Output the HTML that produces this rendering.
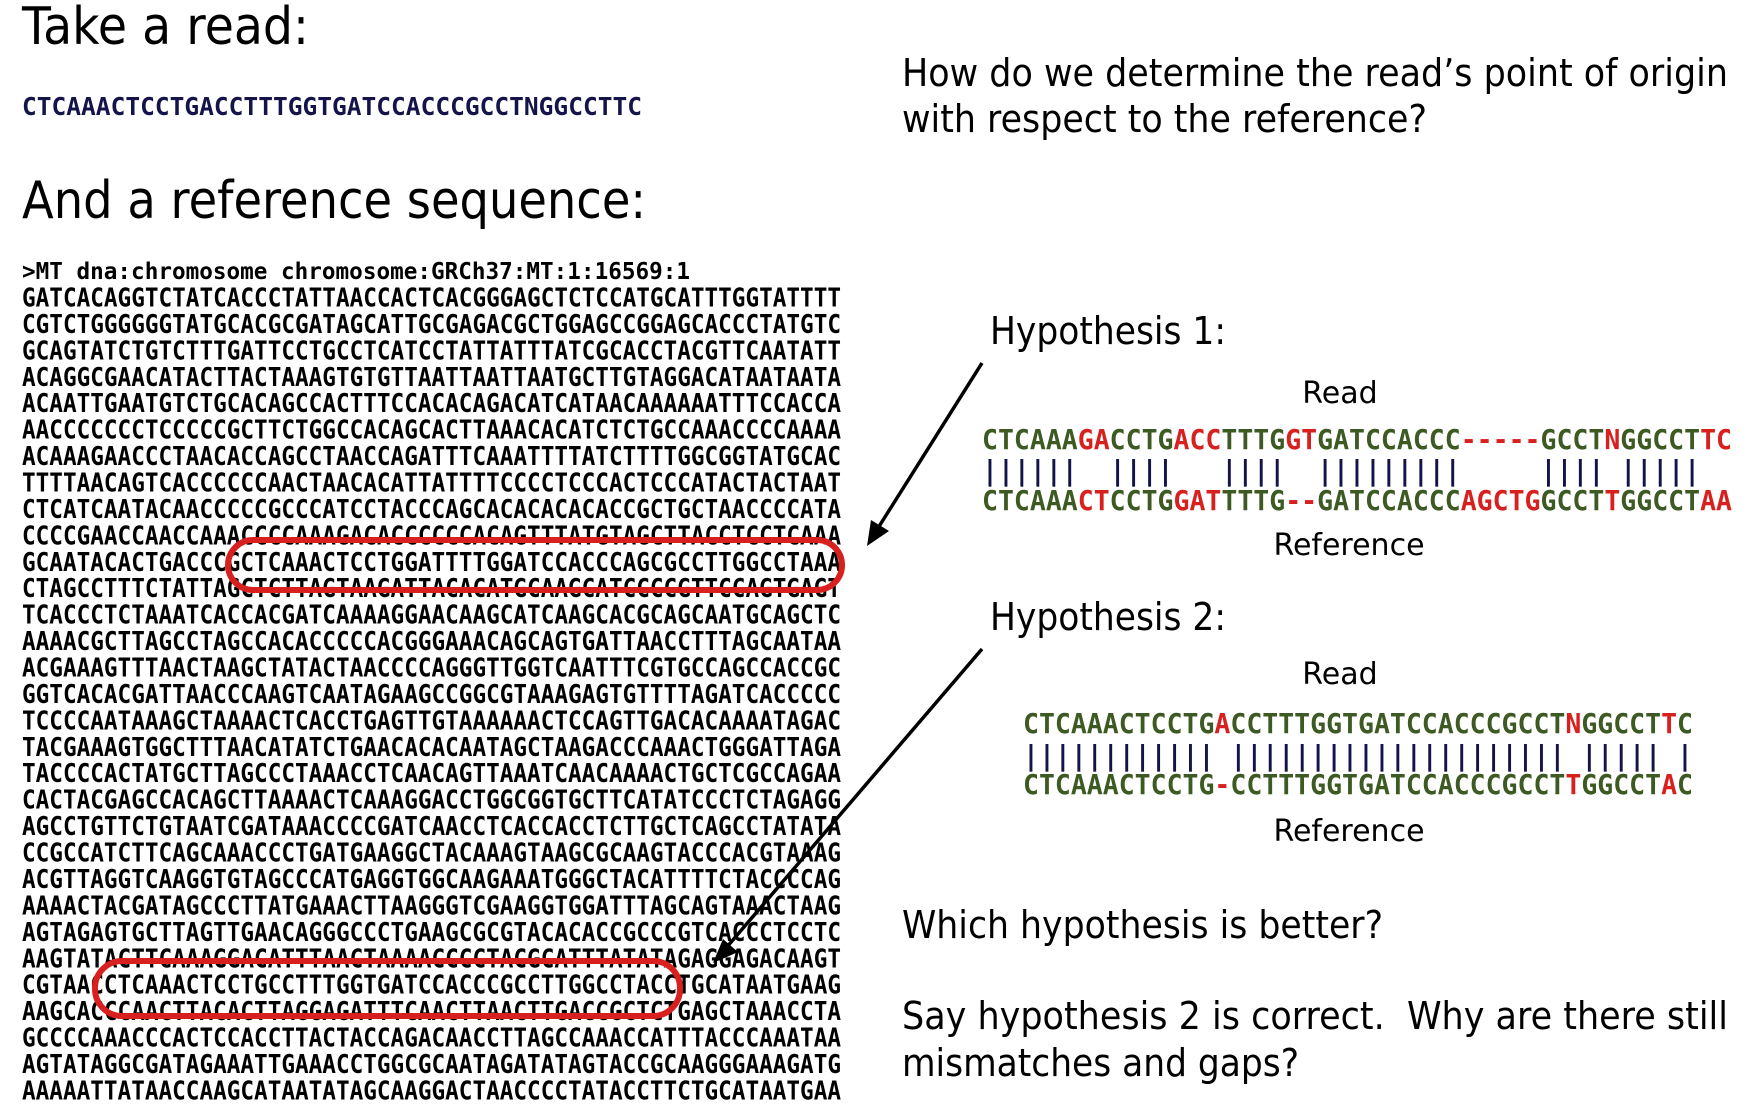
<!DOCTYPE html>
<html><head><meta charset="utf-8"><style>
html,body{margin:0;padding:0;background:#fff;}
svg{display:block;}
.t{font-family:"DejaVu Sans","Liberation Sans",sans-serif;fill:#000;}
.m{font-family:"DejaVu Sans Mono","Liberation Mono",monospace;font-weight:bold;}
.g{fill:#3d5a23;} .r{fill:#d8201e;} .b{fill:#14144a;}
</style></head><body>
<svg width="1752" height="1105" viewBox="0 0 1752 1105" xmlns="http://www.w3.org/2000/svg">
<text class="t" x="22" y="44" font-size="52" textLength="287" lengthAdjust="spacingAndGlyphs">Take a read:</text>
<text class="m b" x="22" y="115" font-size="25" textLength="620" lengthAdjust="spacingAndGlyphs">CTCAAACTCCTGACCTTTGGTGATCCACCCGCCTNGGCCTTC</text>
<text class="t" x="22" y="218" font-size="52" textLength="624" lengthAdjust="spacingAndGlyphs">And a reference sequence:</text>
<text class="t" x="902" y="86" font-size="38" textLength="826" lengthAdjust="spacingAndGlyphs">How do we determine the read’s point of origin</text>
<text class="t" x="902" y="132" font-size="38" textLength="525" lengthAdjust="spacingAndGlyphs">with respect to the reference?</text>

<g class="m" fill="#000">
<text x="22" y="279" textLength="668" lengthAdjust="spacingAndGlyphs" font-size="23">&gt;MT dna:chromosome chromosome:GRCh37:MT:1:16569:1</text>
</g>
<g class="m" font-size="26" fill="#000">
<text x="22" y="306.5" textLength="819" lengthAdjust="spacingAndGlyphs">GATCACAGGTCTATCACCCTATTAACCACTCACGGGAGCTCTCCATGCATTTGGTATTTT</text>
<text x="22" y="332.9" textLength="819" lengthAdjust="spacingAndGlyphs">CGTCTGGGGGGTATGCACGCGATAGCATTGCGAGACGCTGGAGCCGGAGCACCCTATGTC</text>
<text x="22" y="359.4" textLength="819" lengthAdjust="spacingAndGlyphs">GCAGTATCTGTCTTTGATTCCTGCCTCATCCTATTATTTATCGCACCTACGTTCAATATT</text>
<text x="22" y="385.8" textLength="819" lengthAdjust="spacingAndGlyphs">ACAGGCGAACATACTTACTAAAGTGTGTTAATTAATTAATGCTTGTAGGACATAATAATA</text>
<text x="22" y="412.2" textLength="819" lengthAdjust="spacingAndGlyphs">ACAATTGAATGTCTGCACAGCCACTTTCCACACAGACATCATAACAAAAAATTTCCACCA</text>
<text x="22" y="438.7" textLength="819" lengthAdjust="spacingAndGlyphs">AACCCCCCCTCCCCCGCTTCTGGCCACAGCACTTAAACACATCTCTGCCAAACCCCAAAA</text>
<text x="22" y="465.1" textLength="819" lengthAdjust="spacingAndGlyphs">ACAAAGAACCCTAACACCAGCCTAACCAGATTTCAAATTTTATCTTTTGGCGGTATGCAC</text>
<text x="22" y="491.5" textLength="819" lengthAdjust="spacingAndGlyphs">TTTTAACAGTCACCCCCCAACTAACACATTATTTTCCCCTCCCACTCCCATACTACTAAT</text>
<text x="22" y="517.9" textLength="819" lengthAdjust="spacingAndGlyphs">CTCATCAATACAACCCCCGCCCATCCTACCCAGCACACACACACCGCTGCTAACCCCATA</text>
<text x="22" y="544.4" textLength="819" lengthAdjust="spacingAndGlyphs">CCCCGAACCAACCAAACCCCAAAGACACCCCCCACAGTTTATGTAGCTTACCTCCTCAAA</text>
<text x="22" y="570.8" textLength="819" lengthAdjust="spacingAndGlyphs">GCAATACACTGACCCGCTCAAACTCCTGGATTTTGGATCCACCCAGCGCCTTGGCCTAAA</text>
<text x="22" y="597.2" textLength="819" lengthAdjust="spacingAndGlyphs">CTAGCCTTTCTATTAGCTCTTAGTAAGATTACACATGCAAGCATCCCCGTTCCAGTGAGT</text>
<text x="22" y="623.7" textLength="819" lengthAdjust="spacingAndGlyphs">TCACCCTCTAAATCACCACGATCAAAAGGAACAAGCATCAAGCACGCAGCAATGCAGCTC</text>
<text x="22" y="650.1" textLength="819" lengthAdjust="spacingAndGlyphs">AAAACGCTTAGCCTAGCCACACCCCCACGGGAAACAGCAGTGATTAACCTTTAGCAATAA</text>
<text x="22" y="676.5" textLength="819" lengthAdjust="spacingAndGlyphs">ACGAAAGTTTAACTAAGCTATACTAACCCCAGGGTTGGTCAATTTCGTGCCAGCCACCGC</text>
<text x="22" y="703.0" textLength="819" lengthAdjust="spacingAndGlyphs">GGTCACACGATTAACCCAAGTCAATAGAAGCCGGCGTAAAGAGTGTTTTAGATCACCCCC</text>
<text x="22" y="729.4" textLength="819" lengthAdjust="spacingAndGlyphs">TCCCCAATAAAGCTAAAACTCACCTGAGTTGTAAAAAACTCCAGTTGACACAAAATAGAC</text>
<text x="22" y="755.8" textLength="819" lengthAdjust="spacingAndGlyphs">TACGAAAGTGGCTTTAACATATCTGAACACACAATAGCTAAGACCCAAACTGGGATTAGA</text>
<text x="22" y="782.2" textLength="819" lengthAdjust="spacingAndGlyphs">TACCCCACTATGCTTAGCCCTAAACCTCAACAGTTAAATCAACAAAACTGCTCGCCAGAA</text>
<text x="22" y="808.7" textLength="819" lengthAdjust="spacingAndGlyphs">CACTACGAGCCACAGCTTAAAACTCAAAGGACCTGGCGGTGCTTCATATCCCTCTAGAGG</text>
<text x="22" y="835.1" textLength="819" lengthAdjust="spacingAndGlyphs">AGCCTGTTCTGTAATCGATAAACCCCGATCAACCTCACCACCTCTTGCTCAGCCTATATA</text>
<text x="22" y="861.5" textLength="819" lengthAdjust="spacingAndGlyphs">CCGCCATCTTCAGCAAACCCTGATGAAGGCTACAAAGTAAGCGCAAGTACCCACGTAAAG</text>
<text x="22" y="888.0" textLength="819" lengthAdjust="spacingAndGlyphs">ACGTTAGGTCAAGGTGTAGCCCATGAGGTGGCAAGAAATGGGCTACATTTTCTACCCCAG</text>
<text x="22" y="914.4" textLength="819" lengthAdjust="spacingAndGlyphs">AAAACTACGATAGCCCTTATGAAACTTAAGGGTCGAAGGTGGATTTAGCAGTAAACTAAG</text>
<text x="22" y="940.8" textLength="819" lengthAdjust="spacingAndGlyphs">AGTAGAGTGCTTAGTTGAACAGGGCCCTGAAGCGCGTACACACCGCCCGTCACCCTCCTC</text>
<text x="22" y="967.3" textLength="819" lengthAdjust="spacingAndGlyphs">AAGTATACTTCAAAGGACATTTAACTAAAACCCCTACGCATTTATATAGAGGAGACAAGT</text>
<text x="22" y="993.7" textLength="819" lengthAdjust="spacingAndGlyphs">CGTAACCTCAAACTCCTGCCTTTGGTGATCCACCCGCCTTGGCCTACCTGCATAATGAAG</text>
<text x="22" y="1020.1" textLength="819" lengthAdjust="spacingAndGlyphs">AAGCACCCAACTTACACTTAGGAGATTTCAACTTAACTTGACCGCTCTGAGCTAAACCTA</text>
<text x="22" y="1046.5" textLength="819" lengthAdjust="spacingAndGlyphs">GCCCCAAACCCACTCCACCTTACTACCAGACAACCTTAGCCAAACCATTTACCCAAATAA</text>
<text x="22" y="1073.0" textLength="819" lengthAdjust="spacingAndGlyphs">AGTATAGGCGATAGAAATTGAAACCTGGCGCAATAGATATAGTACCGCAAGGGAAAGATG</text>
<text x="22" y="1099.4" textLength="819" lengthAdjust="spacingAndGlyphs">AAAAATTATAACCAAGCATAATATAGCAAGGACTAACCCCTATACCTTCTGCATAATGAA</text>
</g>

<rect x="228" y="540" width="614" height="50" rx="25" ry="25" fill="none" stroke="#d8201e" stroke-width="6"/>
<rect x="95" y="961" width="585" height="55" rx="27" ry="27" fill="none" stroke="#d8201e" stroke-width="6"/>

<line x1="982" y1="363" x2="873" y2="536" stroke="#000" stroke-width="3.5"/>
<polygon points="867,546 871,520 889,531" fill="#000"/>
<line x1="982" y1="649" x2="720" y2="955" stroke="#000" stroke-width="3.5"/>
<polygon points="713,963 723,939 738,952" fill="#000"/>

<text class="t" x="990" y="344" font-size="38" textLength="236" lengthAdjust="spacingAndGlyphs">Hypothesis 1:</text>
<text class="t" x="1340" y="403" font-size="30" text-anchor="middle">Read</text>
<g class="m" font-size="28">
<text x="982" y="449" textLength="750" lengthAdjust="spacingAndGlyphs"><tspan class="g">CTCAAA</tspan><tspan class="r">GA</tspan><tspan class="g">CCTG</tspan><tspan class="r">ACC</tspan><tspan class="g">TTTG</tspan><tspan class="r">GT</tspan><tspan class="g">GATCCACCC</tspan><tspan class="r">-----</tspan><tspan class="g">GCCT</tspan><tspan class="r">N</tspan><tspan class="g">GGCCT</tspan><tspan class="r">TC</tspan></text>
<text x="982" y="480" textLength="750" lengthAdjust="spacingAndGlyphs" class="b" xml:space="preserve">||||||  ||||   ||||  |||||||||     |||| |||||  </text>
<text x="982" y="510" textLength="750" lengthAdjust="spacingAndGlyphs"><tspan class="g">CTCAAA</tspan><tspan class="r">CT</tspan><tspan class="g">CCTG</tspan><tspan class="r">GAT</tspan><tspan class="g">TTTG</tspan><tspan class="r">--</tspan><tspan class="g">GATCCACCC</tspan><tspan class="r">AGCTG</tspan><tspan class="g">GCCT</tspan><tspan class="r">T</tspan><tspan class="g">GGCCT</tspan><tspan class="r">AA</tspan></text>
</g>
<text class="t" x="1349" y="555" font-size="30" text-anchor="middle">Reference</text>

<text class="t" x="990" y="630" font-size="38" textLength="236" lengthAdjust="spacingAndGlyphs">Hypothesis 2:</text>
<text class="t" x="1340" y="684" font-size="30" text-anchor="middle">Read</text>
<g class="m" font-size="28">
<text x="1023" y="733" textLength="670" lengthAdjust="spacingAndGlyphs"><tspan class="g">CTCAAACTCCTG</tspan><tspan class="r">A</tspan><tspan class="g">CCTTTGGTGATCCACCCGCCT</tspan><tspan class="r">N</tspan><tspan class="g">GGCCT</tspan><tspan class="r">T</tspan><tspan class="g">C</tspan></text>
<text x="1023" y="765" textLength="670" lengthAdjust="spacingAndGlyphs" class="b" xml:space="preserve">|||||||||||| ||||||||||||||||||||| ||||| |</text>
<text x="1023" y="794" textLength="670" lengthAdjust="spacingAndGlyphs"><tspan class="g">CTCAAACTCCTG</tspan><tspan class="r">-</tspan><tspan class="g">CCTTTGGTGATCCACCCGCCT</tspan><tspan class="r">T</tspan><tspan class="g">GGCCT</tspan><tspan class="r">A</tspan><tspan class="g">C</tspan></text>
</g>
<text class="t" x="1349" y="841" font-size="30" text-anchor="middle">Reference</text>

<text class="t" x="902" y="938" font-size="38" textLength="481" lengthAdjust="spacingAndGlyphs">Which hypothesis is better?</text>
<text class="t" x="902" y="1029" font-size="38" textLength="826" lengthAdjust="spacingAndGlyphs" xml:space="preserve">Say hypothesis 2 is correct.  Why are there still</text>
<text class="t" x="902" y="1076" font-size="38" textLength="397" lengthAdjust="spacingAndGlyphs">mismatches and gaps?</text>
</svg>
</body></html>
